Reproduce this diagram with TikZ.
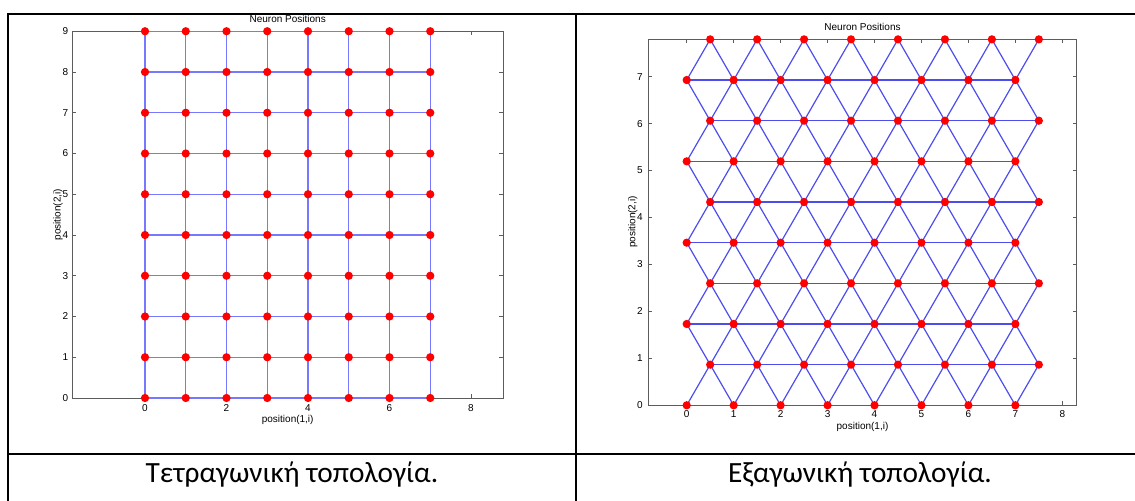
\documentclass[tikz,border=0pt]{standalone}
\usepackage{fontspec}
\setmainfont{Liberation Sans}
\newfontfamily\capfont{Carlito}
\usetikzlibrary{positioning}
\definecolor{Nc}{HTML}{FF0000}
\definecolor{Ec}{HTML}{4D4DEE}
\definecolor{Sc}{HTML}{7878FF}
\definecolor{Ac}{HTML}{5C5C5C}
\tikzset{
  neu/.style={circle, fill=Nc, inner sep=0pt, minimum size=6.2pt},
  link/.style={Ec, line width=0.9pt},
  sqlink/.style={Sc, line width=1pt},
  axbox/.style={Ac, line width=0.75pt},
  tck/.style={Ac, line width=0.6pt},
  lbl/.style={font=\fontsize{7.5}{9}\selectfont, inner sep=0pt},
  captxt/.style={font=\capfont\fontsize{22}{26}\selectfont, inner sep=0pt, anchor=base},
  tblrule/.style={line width=1.5pt},
}
\newcommand{\SqPos}[2]{({145+40.75*(#1)}, {398-40.75*(#2)})}
\newcommand{\HxPos}[2]{({686.7+46.95*(#1)}, {405.3-46.95*(#2)})}

\begin{document}
\begin{tikzpicture}[x=0.75pt, y=-0.75pt]
  \clip (0,0) rectangle (1135,500);
  \draw[tblrule] (8,14) rectangle (1144,506);
  \draw[tblrule] (576,14) -- (576,506);
  \draw[tblrule] (8,454) -- (1144,454);
  % labels and captions
  \node[lbl] (sqtitle) at (287.7,19.3) {Neuron Positions};
  \node[lbl] (sqxlab) at (287.7,420) {position(1,i)};
  \node[lbl, rotate=90] (sqylab) at (58,214.7) {position(2,i)};
  \node[lbl] (hxtitle) at (862.5,26.7) {Neuron Positions};
  \node[lbl] (hxxlab) at (862.5,426.7) {position(1,i)};
  \node[lbl, rotate=90] (hxylab) at (632.7,222) {position(2,i)};
  \node[captxt] (sqcap) at (292,482) {Τετραγωνική τοπολογία.};
  \node[captxt] (hxcap) at (860,482) {Εξαγωνική τοπολογία.};
  % square grid
  \draw[axbox] (72,31.25) rectangle (503.3,398);
  \foreach \v in {0,...,9}{
    \draw[tck] (72,{398-40.75*\v}) -- ++(4,0);
    \draw[tck] (503.3,{398-40.75*\v}) -- ++(-4,0);
    \node[lbl, anchor=east] (sy\v) at (68.5,{398-40.75*\v}) {\v};}
  \foreach \v in {0,2,...,8}{
    \draw[tck] \SqPos{\v}{0} -- ++(0,-4);
    \draw[tck] \SqPos{\v}{9} -- ++(0,4);
    \node[lbl] (sx\v) at ({145+40.75*\v},408) {\v};}
  \foreach \col in {0,...,7}{\foreach \row in {0,...,9}{
    \path \SqPos{\col}{\row} coordinate (q-\col-\row);}}
  \foreach \col in {0,...,7}{\foreach \row in {0,...,8}{
    \pgfmathtruncatemacro\nxt{\row+1}
    \draw[sqlink] (q-\col-\row) -- (q-\col-\nxt);}}
  \foreach \row in {0,...,9}{\foreach \col in {0,...,6}{
    \pgfmathtruncatemacro\nxt{\col+1}
    \draw[sqlink] (q-\col-\row) -- (q-\nxt-\row);}}
  \foreach \col in {0,...,7}{\foreach \row in {0,...,9}{
    \node[neu] (qn-\col-\row) at (q-\col-\row) {};}}
  % hexagonal grid
  \draw[axbox] (648.3,39.4) rectangle (1076.7,405.3);
  \foreach \v in {0,...,7}{
    \draw[tck] (648.3,{405.3-46.95*\v}) -- ++(4,0);
    \draw[tck] (1076.7,{405.3-46.95*\v}) -- ++(-4,0);
    \node[lbl, anchor=east] (hy\v) at (643,{405.3-46.95*\v}) {\v};}
  \foreach \v in {0,...,8}{
    \draw[tck] \HxPos{\v}{0} -- ++(0,-4);
    \draw[tck] ({686.7+46.95*\v},39.4) -- ++(0,4);
    \node[lbl] (hx\v) at ({686.7+46.95*\v},414) {\v};}
  \foreach \row in {0,...,9}{\foreach \col in {0,...,7}{
    \path \HxPos{\col+0.5*mod(\row,2)}{0.866025*\row} coordinate (h-\col-\row);}}
  \foreach \row in {0,...,9}{\foreach \col in {0,...,6}{
    \pgfmathtruncatemacro\nxt{\col+1}
    \draw[link] (h-\col-\row) -- (h-\nxt-\row);}}
  \foreach \row in {0,...,8}{\foreach \col in {0,...,7}{
    \pgfmathtruncatemacro\up{\row+1}
    \draw[link] (h-\col-\row) -- (h-\col-\up);}}
  \foreach \row in {0,2,4,6,8}{\foreach \col in {1,...,7}{
    \pgfmathtruncatemacro\up{\row+1}
    \pgfmathtruncatemacro\nxt{\col-1}
    \draw[link] (h-\col-\row) -- (h-\nxt-\up);}}
  \foreach \row in {1,3,5,7}{\foreach \col in {0,...,6}{
    \pgfmathtruncatemacro\up{\row+1}
    \pgfmathtruncatemacro\nxt{\col+1}
    \draw[link] (h-\col-\row) -- (h-\nxt-\up);}}
  \foreach \row in {0,...,9}{\foreach \col in {0,...,7}{
    \node[neu] (hn-\col-\row) at (h-\col-\row) {};}}
\end{tikzpicture}
\end{document}
